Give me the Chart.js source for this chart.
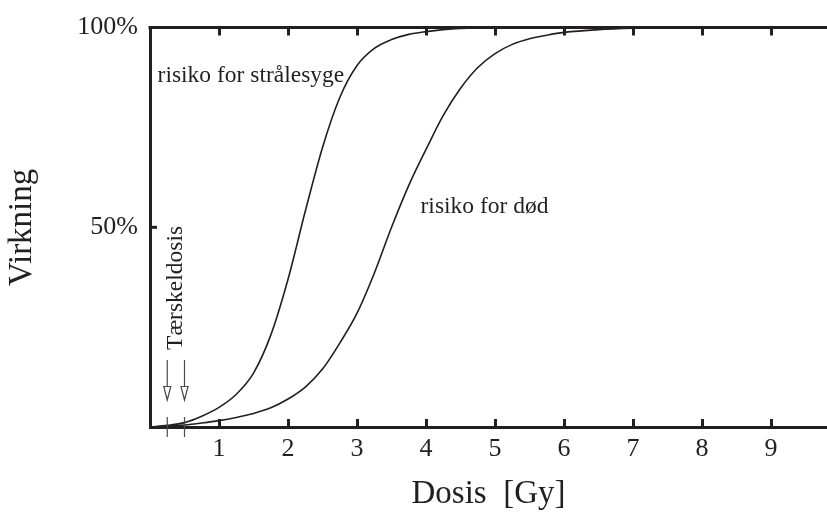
<!DOCTYPE html>
<html>
<head>
<meta charset="utf-8">
<script src="https://cdn.jsdelivr.net/npm/chart.js@4/dist/chart.umd.min.js"></script>
<style>
html,body{margin:0;padding:0;background:#fff;}
#wrap{width:827px;height:517px;position:relative;}
</style>
</head>
<body>
<div id="wrap"><canvas id="c" width="827" height="517"></canvas></div>
<script>
// Data
const doseStraale = [0, 0.25, 0.5, 0.75, 1.0, 1.25, 1.5, 1.75, 2.0, 2.25, 2.5, 2.75, 3.0, 3.25, 3.5, 3.75, 4.0, 4.25, 4.5, 5.0, 6.0, 7.0, 8.0, 9.0, 9.81];
const riskStraale = [0, 0.4, 1.1, 2.7, 4.9, 8.2, 13.5, 23, 37, 54, 70, 82.5, 90.5, 94.8, 97, 98.3, 99, 99.5, 99.8, 100, 100, 100, 100, 100, 100];
const doseDoed = [0, 0.25, 0.5, 0.75, 1.0, 1.25, 1.5, 1.75, 2.0, 2.25, 2.5, 2.75, 3.0, 3.25, 3.5, 3.75, 4.0, 4.25, 4.5, 4.75, 5.0, 5.25, 5.5, 5.75, 6.0, 6.5, 7.0, 7.5, 8.0, 9.0, 9.81];
const riskDoed = [0, 0.2, 0.5, 1.0, 1.6, 2.4, 3.4, 4.8, 7.0, 10, 14.5, 21, 28.5, 38.5, 50, 60.5, 69.5, 78, 84.8, 90, 93.5, 95.8, 97.2, 98.1, 98.8, 99.5, 99.85, 100, 100, 100, 100];
const xTicks = [1, 2, 3, 4, 5, 6, 7, 8, 9];
const yTicks = [0, 50, 100];
const yTickLabels = {0: '', 50: '50%', 100: '100%'};
const thresholdDoses = [0.25, 0.5];
const seriesNames = ['risiko for strålesyge', 'risiko for død'];

const INK = '#231f20';
const SERIF = '"Liberation Serif", "Times New Roman", serif';

const toPts = (xs, ys) => xs.map((x, i) => ({x: x, y: ys[i]}));

const decorPlugin = {
  id: 'decor',
  afterDraw(chart) {
    const ctx = chart.ctx;
    const xs = chart.scales.x, ys = chart.scales.y;
    const ca = chart.chartArea;
    ctx.save();
    // top frame line
    ctx.strokeStyle = INK;
    ctx.lineWidth = 3;
    ctx.beginPath();
    ctx.moveTo(ca.left - 1.5, ys.getPixelForValue(100));
    ctx.lineTo(ca.right, ys.getPixelForValue(100));
    ctx.stroke();
    // inside ticks on bottom and top
    ctx.lineWidth = 3;
    xTicks.forEach(v => {
      const px = Math.round(xs.getPixelForValue(v)) + 0.5;
      ctx.beginPath();
      ctx.moveTo(px, ys.getPixelForValue(0));
      ctx.lineTo(px, ys.getPixelForValue(0) - 8);
      ctx.moveTo(px, ys.getPixelForValue(100));
      ctx.lineTo(px, ys.getPixelForValue(100) + 8);
      ctx.stroke();
    });
    // y tick at 50%
    ctx.beginPath();
    ctx.moveTo(ca.left, ys.getPixelForValue(50));
    ctx.lineTo(ca.left + 7, ys.getPixelForValue(50));
    ctx.stroke();

    // threshold markers
    ctx.strokeStyle = '#4a4a4a';
    ctx.lineWidth = 1.2;
    const base = ys.getPixelForValue(0);
    thresholdDoses.forEach(d => {
      const px = xs.getPixelForValue(d);
      ctx.beginPath();
      ctx.moveTo(px, base - 67);
      ctx.lineTo(px, base - 40);
      ctx.moveTo(px, base - 10);
      ctx.lineTo(px, base + 10);
      ctx.stroke();
      // hollow arrowhead
      ctx.beginPath();
      ctx.moveTo(px - 3.5, base - 40.5);
      ctx.lineTo(px + 3.5, base - 40.5);
      ctx.lineTo(px, base - 27);
      ctx.closePath();
      ctx.stroke();
    });

    // text labels
    ctx.fillStyle = INK;
    ctx.font = '23.5px ' + SERIF;
    ctx.textAlign = 'left';
    ctx.textBaseline = 'alphabetic';
    ctx.fillText(seriesNames[0], xs.getPixelForValue(0.11), ys.getPixelForValue(86.3));
    ctx.fillText(seriesNames[1], xs.getPixelForValue(3.92), ys.getPixelForValue(53.5));
    // vertical threshold label
    const tx = (xs.getPixelForValue(thresholdDoses[0]) + xs.getPixelForValue(thresholdDoses[1])) / 2 + 6.5;
    ctx.save();
    ctx.translate(tx, ys.getPixelForValue(19.3));
    ctx.rotate(-Math.PI / 2);
    ctx.fillText('Tærskeldosis', 0, 0);
    ctx.restore();
    ctx.restore();
  }
};

new Chart(document.getElementById('c'), {
  type: 'line',
  data: {
    datasets: [
      {label: seriesNames[0], data: toPts(doseStraale, riskStraale)},
      {label: seriesNames[1], data: toPts(doseDoed, riskDoed)}
    ]
  },
  options: {
    responsive: false,
    animation: false,
    devicePixelRatio: 1,
    layout: {padding: {top: 27, right: 0, bottom: 0, left: 0}},
    elements: {
      point: {radius: 0},
      line: {borderColor: INK, borderWidth: 1.6, cubicInterpolationMode: 'monotone', fill: false}
    },
    plugins: {legend: {display: false}, tooltip: {enabled: false}},
    scales: {
      x: {
        type: 'linear',
        min: 0,
        max: 9.81,
        afterBuildTicks: s => { s.ticks = xTicks.map(v => ({value: v})); },
        afterFit: s => { s.height = 90; },
        grid: {display: false, drawTicks: false},
        border: {display: true, color: INK, width: 3},
        ticks: {color: INK, font: {family: SERIF, size: 26}, padding: 7, maxRotation: 0, autoSkip: false},
        title: {display: true, text: 'Dosis  [Gy]', color: INK, font: {family: SERIF, size: 33}, padding: {top: 0, bottom: 3}}
      },
      y: {
        type: 'linear',
        min: 0,
        max: 100,
        afterBuildTicks: s => { s.ticks = yTicks.map(v => ({value: v})); },
        afterFit: s => { s.width = 150; },
        grid: {display: false, drawTicks: false},
        border: {display: true, color: INK, width: 3},
        ticks: {color: INK, font: {family: SERIF, size: 26}, padding: 12, autoSkip: false,
          callback: v => yTickLabels[v] || ''},
        title: {display: true, text: 'Virkning', color: INK, font: {family: SERIF, size: 33}, padding: {top: 3, bottom: 0}}
      }
    }
  },
  plugins: [decorPlugin]
});
</script>
</body>
</html>
